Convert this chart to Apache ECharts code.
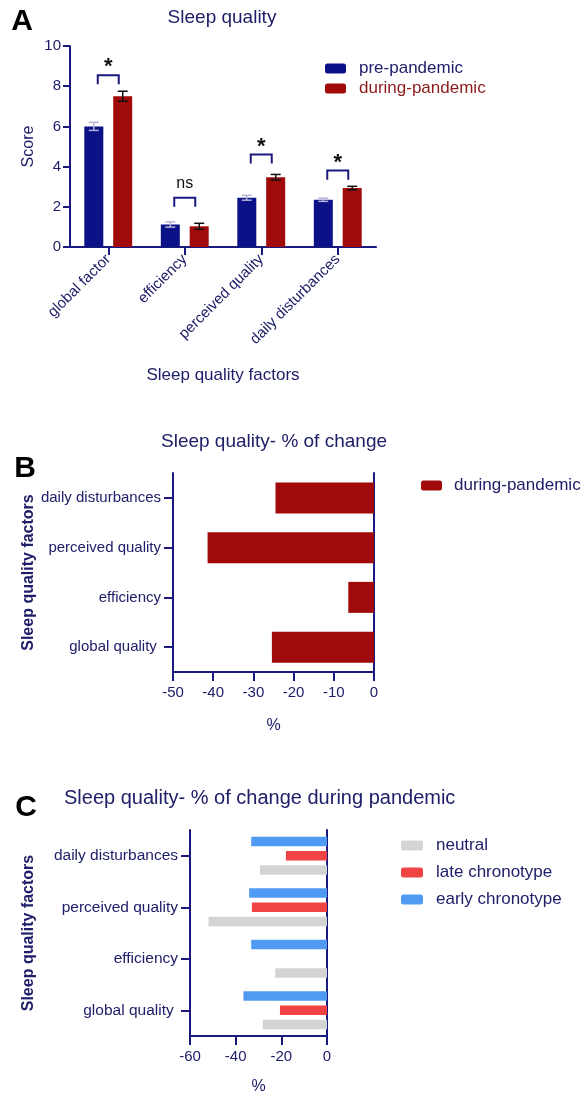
<!DOCTYPE html>
<html>
<head>
<meta charset="utf-8">
<script src="https://cdn.jsdelivr.net/npm/echarts@6/dist/echarts.min.js"></script>
<style>
html,body{margin:0;padding:0;background:#fff;}
#c{width:582px;height:1094px;}
</style>
</head>
<body>
<div id="c"></div>
<script>
// ---- Panel A data ----
const catsA = ['global factor', 'efficiency', 'perceived quality', 'daily disturbances'];
const preA = [6.0, 1.12, 2.45, 2.35];
const duringA = [7.5, 1.03, 3.47, 2.93];
const preErr = [0.2, 0.13, 0.12, 0.08];
const duringErr = [0.25, 0.15, 0.14, 0.09];
const sigLabel = ['*', 'ns', '*', '*'];
const sigTop = [8.55, 2.45, 4.6, 3.8];
const ticksA = [0, 2, 4, 6, 8, 10];

// ---- Panel B data ----
const catsB = ['global quality ', 'efficiency', 'perceived quality', 'daily disturbances'];
const changeB = [-25.4, -6.4, -41.4, -24.5];

// ---- Panel C data ----
const catsC = ['global quality ', 'efficiency', 'perceived quality', 'daily disturbances'];
const earlyC = [-36.6, -33.2, -34.1, -33.2];
const lateC = [-20.6, '-', -32.9, -18.0];
const neutralC = [-28.1, -22.7, -51.9, -29.3];

const AX = '#1a1a7e';
const TX = '#20206a';
const NAVY = '#0b1186';
const DRED = '#a10a0a';
const FONT = 'Liberation Sans, Arial, sans-serif';

const chart = echarts.init(document.getElementById('c'));

const errData = [];
catsA.forEach((c, i) => {
  errData.push([i, preA[i], preErr[i], -1]);
  errData.push([i, duringA[i], duringErr[i], 1]);
});
const sigData = catsA.map((c, i) => [i, sigTop[i], i]);

function catAxisCommon(grid, data, pos, showLabels, fs) {
  return {
    type: 'category', gridIndex: grid, data: data, position: pos,
    axisLine: { show: true, onZero: false, lineStyle: { color: AX, width: 2 } },
    axisTick: { show: showLabels, alignWithLabel: true, length: 9, lineStyle: { color: AX, width: 2 } },
    axisLabel: { show: showLabels, color: TX, fontSize: fs, fontFamily: FONT, margin: 12 },
    splitLine: { show: false }
  };
}

const option = {
  backgroundColor: '#fff',
  animation: false,
  textStyle: { fontFamily: FONT },
  grid: [
    { left: 70, top: 46, width: 306, height: 201, outerBoundsMode: 'none', containLabel: false },
    { left: 173, top: 473, width: 201, height: 199, outerBoundsMode: 'none', containLabel: false },
    { left: 190, top: 830, width: 137, height: 206, outerBoundsMode: 'none', containLabel: false }
  ],
  legend: [
    {
      orient: 'vertical', left: 325, top: 60, padding: 0, itemWidth: 21, itemHeight: 10, itemGap: 3,
      textStyle: { fontSize: 17, fontFamily: FONT, padding: [0, 0, 0, 8] },
      data: [
        { name: 'pre-pandemic', textStyle: { color: TX } },
        { name: 'during-pandemic', textStyle: { color: '#8c1a1a' } }
      ]
    },
    {
      orient: 'vertical', left: 421, top: 477, padding: 0, itemWidth: 21, itemHeight: 10,
      textStyle: { fontSize: 17, fontFamily: FONT, color: TX, padding: [0, 0, 0, 7] },
      data: ['during-pandemic']
    },
    {
      orient: 'vertical', left: 401, top: 837, padding: 0, itemWidth: 22, itemHeight: 10, itemGap: 10,
      textStyle: { fontSize: 17, fontFamily: FONT, color: TX, padding: [0, 0, 0, 8] },
      data: ['neutral', 'late chronotype', 'early chronotype']
    }
  ],
  xAxis: [
    {
      type: 'category', gridIndex: 0, data: catsA,
      axisLine: { show: true, lineStyle: { color: AX, width: 2 } },
      axisTick: { show: true, alignWithLabel: true, length: 8, lineStyle: { color: AX, width: 2 } },
      axisLabel: { color: TX, fontSize: 15, fontFamily: FONT, rotate: 45, margin: 10 },
      name: 'Sleep quality factors', nameLocation: 'middle', nameGap: 120,
      nameTextStyle: { color: TX, fontSize: 17, fontFamily: FONT }
    },
    {
      type: 'value', gridIndex: 1, min: -50, max: 0, interval: 10,
      axisLine: { show: true, onZero: false, lineStyle: { color: AX, width: 2 } },
      axisTick: { show: true, length: 9, lineStyle: { color: AX, width: 2 } },
      axisLabel: { color: TX, fontSize: 15, fontFamily: FONT, margin: 13 },
      splitLine: { show: false },
      name: '%', nameLocation: 'middle', nameGap: 46,
      nameTextStyle: { color: TX, fontSize: 16, fontFamily: FONT }
    },
    {
      type: 'value', gridIndex: 2, min: -60, max: 0, interval: 20,
      axisLine: { show: true, onZero: false, lineStyle: { color: AX, width: 2 } },
      axisTick: { show: true, length: 9, lineStyle: { color: AX, width: 2 } },
      axisLabel: { color: TX, fontSize: 15, fontFamily: FONT, margin: 13 },
      splitLine: { show: false },
      name: '%', nameLocation: 'middle', nameGap: 43,
      nameTextStyle: { color: TX, fontSize: 16, fontFamily: FONT }
    }
  ],
  yAxis: [
    {
      type: 'value', gridIndex: 0, min: 0, max: 10, interval: 2,
      axisLine: { show: true, lineStyle: { color: AX, width: 2 } },
      axisTick: { show: true, length: 7, lineStyle: { color: AX, width: 2 } },
      axisLabel: { color: TX, fontSize: 15, fontFamily: FONT, margin: 9,
        formatter: v => ticksA.includes(v) ? String(v) : '' },
      splitLine: { show: false },
      name: 'Score', nameLocation: 'middle', nameGap: 33, nameMoveOverlap: false,
      nameTextStyle: { color: TX, fontSize: 16, fontFamily: FONT }
    },
    Object.assign(catAxisCommon(1, catsB, 'left', true, 15), {
      name: 'Sleep quality factors', nameLocation: 'middle', nameGap: 136, nameMoveOverlap: false,
      nameTextStyle: { color: TX, fontSize: 16, fontWeight: 'bold', fontFamily: FONT }
    }),
    catAxisCommon(1, catsB, 'right', false, 15),
    Object.assign(catAxisCommon(2, catsC, 'left', true, 15.5), {
      name: 'Sleep quality factors', nameLocation: 'middle', nameGap: 153, nameMoveOverlap: false,
      nameTextStyle: { color: TX, fontSize: 16, fontWeight: 'bold', fontFamily: FONT }
    }),
    catAxisCommon(2, catsC, 'right', false, 15.5)
  ],
  series: [
    { name: 'pre-pandemic', type: 'bar', xAxisIndex: 0, yAxisIndex: 0, data: preA,
      barWidth: 19, barGap: '52%', itemStyle: { color: NAVY } },
    { name: 'during-pandemic', type: 'bar', xAxisIndex: 0, yAxisIndex: 0, data: duringA,
      barWidth: 19, barGap: '52%', itemStyle: { color: DRED } },
    {
      type: 'custom', xAxisIndex: 0, yAxisIndex: 0, data: errData, z: 5,
      renderItem: function (params, api) {
        const ci = api.value(0), v = api.value(1), e = api.value(2), side = api.value(3);
        const c = api.coord([ci, v]);
        const x = c[0] + side * 14.5;
        const yt = api.coord([ci, v + e])[1];
        const yb = api.coord([ci, v - e])[1];
        const col = side < 0 ? '#b4b4d8' : '#111111';
        const st = { stroke: col, lineWidth: 1.5 };
        return { type: 'group', children: [
          { type: 'line', shape: { x1: x, y1: yt, x2: x, y2: yb }, style: st },
          { type: 'line', shape: { x1: x - 5, y1: yt, x2: x + 5, y2: yt }, style: st },
          { type: 'line', shape: { x1: x - 5, y1: yb, x2: x + 5, y2: yb }, style: st }
        ]};
      }
    },
    {
      type: 'custom', xAxisIndex: 0, yAxisIndex: 0, data: sigData, z: 5,
      renderItem: function (params, api) {
        const ci = api.value(0), top = api.value(1), idx = api.value(2);
        const c = api.coord([ci, top]);
        const yl = api.coord([ci, top - 0.45])[1];
        const x1 = c[0] - 10.5, x2 = c[0] + 10.5, y = c[1];
        const lab = sigLabel[idx];
        const isStar = lab === '*';
        return { type: 'group', children: [
          { type: 'polyline', shape: { points: [[x1, yl], [x1, y], [x2, y], [x2, yl]] },
            style: { stroke: AX, lineWidth: 2, fill: null } },
          { type: 'text', x: c[0], y: isStar ? y - 8 : y - 14,
            style: { text: lab, fill: '#111', textAlign: 'center', textVerticalAlign: 'middle',
              font: (isStar ? 'bold 22px ' : '16px ') + FONT } }
        ]};
      }
    },
    { name: 'during-pandemic', type: 'bar', xAxisIndex: 1, yAxisIndex: 1, data: changeB,
      barWidth: 31, itemStyle: { color: DRED } },
    { name: 'early chronotype', type: 'bar', xAxisIndex: 2, yAxisIndex: 3, data: earlyC,
      barWidth: 9.5, barGap: '50%', itemStyle: { color: '#4f9bf3' } },
    { name: 'late chronotype', type: 'bar', xAxisIndex: 2, yAxisIndex: 3, data: lateC,
      barWidth: 9.5, barGap: '50%', itemStyle: { color: '#f04444' } },
    { name: 'neutral', type: 'bar', xAxisIndex: 2, yAxisIndex: 3, data: neutralC,
      barWidth: 9.5, barGap: '50%', itemStyle: { color: '#d4d4d4' } }
  ],
  graphic: [
    { type: 'text', x: 22, y: 22, style: { text: 'A', font: 'bold 30px ' + FONT, fill: '#000', textAlign: 'center', textVerticalAlign: 'middle' } },
    { type: 'text', x: 222, y: 18, style: { text: 'Sleep quality', font: '19px ' + FONT, fill: TX, textAlign: 'center', textVerticalAlign: 'middle' } },
    { type: 'text', x: 25, y: 469, style: { text: 'B', font: 'bold 30px ' + FONT, fill: '#000', textAlign: 'center', textVerticalAlign: 'middle' } },
    { type: 'text', x: 274, y: 442, style: { text: 'Sleep quality- % of change', font: '19px ' + FONT, fill: TX, textAlign: 'center', textVerticalAlign: 'middle' } },
    { type: 'text', x: 26, y: 808, style: { text: 'C', font: 'bold 30px ' + FONT, fill: '#000', textAlign: 'center', textVerticalAlign: 'middle' } },
    { type: 'text', x: 64, y: 798, style: { text: 'Sleep quality- % of change during pandemic', font: '20px ' + FONT, fill: TX, textAlign: 'left', textVerticalAlign: 'middle' } }
  ]
};
chart.setOption(option);
</script>
</body>
</html>
